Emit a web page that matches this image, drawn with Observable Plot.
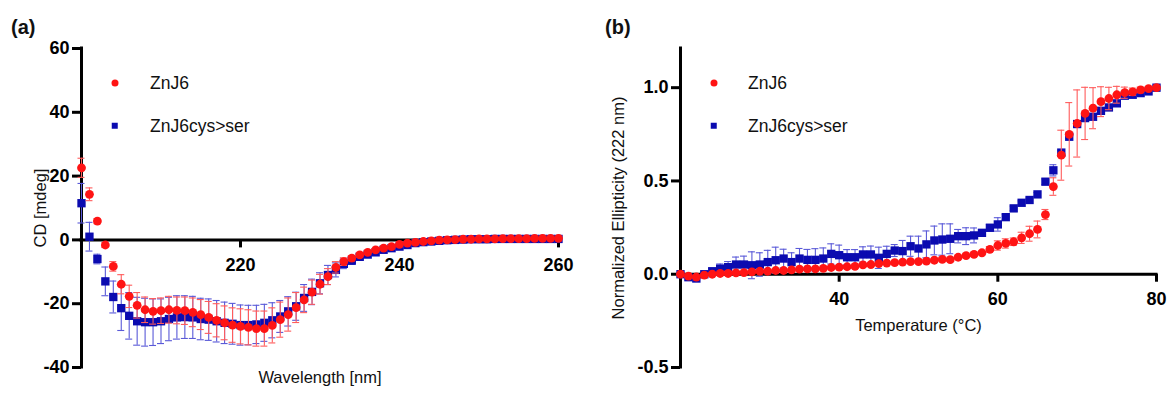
<!DOCTYPE html>
<html><head><meta charset="utf-8">
<script src="https://cdn.jsdelivr.net/npm/d3@7"></script>
<script src="https://cdn.jsdelivr.net/npm/@observablehq/plot@0.6"></script>
<style>
body{margin:0;background:#fff;font-family:"Liberation Sans",Arial,sans-serif}
#wrap{position:relative;width:1171px;height:394px;overflow:hidden;background:#fff}
.panel{position:absolute;top:0}
.plab{position:absolute;font-weight:bold;font-size:20px;color:#111;line-height:1}
.legt{position:absolute;font-size:17.5px;color:#111;line-height:1;white-space:nowrap;transform:translateY(-50%)}
.sw{position:absolute;transform:translate(-50%,-50%)}
</style></head>
<body>
<div id="wrap"></div>
<script>
// ---------- Panel (a): CD spectra ----------
const wavelength = [200,201,202,203,204,205,206,207,208,209,210,211,212,213,214,215,216,217,218,219,220,221,222,223,224,225,226,227,228,229,230,231,232,233,234,235,236,237,238,239,240,241,242,243,244,245,246,247,248,249,250,251,252,253,254,255,256,257,258,259,260];
const cdZnJ6 = [22.6,14.3,5.9,-1.6,-8.3,-13.9,-17.7,-20.5,-21.9,-22.4,-22.2,-21.9,-22.1,-22.2,-22.7,-23.4,-24.3,-25.2,-26.0,-26.7,-27.1,-27.4,-27.8,-27.8,-26.8,-25.0,-23.4,-21.2,-18.8,-16.4,-13.9,-11.5,-8.6,-6.8,-5.7,-4.7,-3.9,-3.1,-2.6,-2.1,-1.4,-1.0,-0.8,-0.5,-0.3,-0.1,0.0,0.1,0.2,0.2,0.3,0.3,0.3,0.4,0.4,0.4,0.4,0.5,0.5,0.5,0.5];
const cdZnJ6Err = [3,2,0.8,0.8,1.5,3,3.5,4,4,4,4,4.2,4.2,4.3,4.5,4.7,5,5.2,5.3,5.4,5.5,5.5,5.5,5.5,5.5,5.5,5.2,4.7,4.0,3.8,3.1,2.5,1.8,1.2,0.8,0.6,0.5,0.4,0.3,0.3,0.3,0.3,0.3,0.3,0.3,0.3,0.2,0.2,0.2,0.2,0.2,0.2,0.2,0.2,0.2,0.2,0.2,0.2,0.2,0.2,0.2];
const cdMut = [11.5,1.0,-6.0,-13.0,-17.9,-21.4,-23.8,-25.5,-25.8,-25.8,-25.5,-24.8,-24.3,-24.2,-24.3,-24.8,-25.0,-25.5,-26.0,-26.3,-26.7,-26.7,-26.5,-26.0,-25.2,-24.0,-22.4,-20.8,-18.2,-16.3,-13.6,-11.0,-9.4,-7.5,-6.5,-5.3,-4.6,-3.9,-3.1,-2.6,-2.1,-1.6,-1.0,-0.7,-0.5,-0.3,-0.1,0.0,0.1,0.2,0.2,0.2,0.3,0.3,0.3,0.3,0.3,0.3,0.3,0.3,0.3];
const cdMutErr = [6.2,4.5,1.5,4.5,5,7,7.3,7.5,7.5,7.3,7,6.8,6.8,6.7,6.6,6.5,6.5,6.5,6.5,6.4,6.3,6.2,6.0,5.8,5.5,5.0,4.6,4.4,4.2,4.0,3.3,3.0,2.2,1.5,1.2,0.9,0.7,0.5,0.4,0.3,0.3,0.3,0.3,0.3,0.3,0.3,0.3,0.3,0.3,0.3,0.3,0.3,0.3,0.3,0.3,0.3,0.3,0.3,0.3,0.3,0.3];
const aXTicks = [220, 240, 260];
const aYTicks = [60, 40, 20, 0, -20, -40];

// ---------- Panel (b): thermal melt ----------
const temperature = [20,21,22,23,24,25,26,27,28,29,30,31,32,33,34,35,36,37,38,39,40,41,42,43,44,45,46,47,48,49,50,51,52,53,54,55,56,57,58,59,60,61,62,63,64,65,66,67,68,69,70,71,72,73,74,75,76,77,78,79,80];
const ellZnJ6 = [0.0,-0.01,-0.015,-0.005,0.0,0.004,0.004,0.007,0.009,0.013,0.016,0.016,0.02,0.02,0.023,0.027,0.029,0.029,0.031,0.036,0.038,0.04,0.042,0.05,0.052,0.057,0.06,0.062,0.065,0.068,0.068,0.07,0.075,0.08,0.078,0.091,0.1,0.106,0.115,0.133,0.154,0.165,0.174,0.195,0.217,0.24,0.32,0.47,0.638,0.75,0.808,0.862,0.89,0.925,0.942,0.962,0.973,0.978,0.988,0.995,1.0];
const ellZnJ6Err = [0.005,0.005,0.005,0.005,0.005,0.005,0.005,0.005,0.005,0.005,0.006,0.006,0.006,0.006,0.006,0.006,0.006,0.006,0.006,0.006,0.007,0.007,0.007,0.007,0.007,0.007,0.007,0.008,0.008,0.008,0.008,0.008,0.008,0.008,0.008,0.01,0.01,0.01,0.01,0.015,0.025,0.025,0.02,0.03,0.04,0.045,0.027,0.047,0.134,0.17,0.18,0.14,0.11,0.08,0.06,0.045,0.03,0.02,0.015,0.01,0.005];
const ellMut = [0.0,-0.016,-0.023,0.0,0.016,0.03,0.038,0.052,0.052,0.048,0.052,0.065,0.075,0.084,0.065,0.084,0.077,0.077,0.084,0.109,0.102,0.091,0.091,0.106,0.106,0.088,0.109,0.127,0.124,0.15,0.138,0.16,0.181,0.186,0.19,0.204,0.204,0.208,0.222,0.249,0.267,0.306,0.353,0.383,0.398,0.428,0.496,0.557,0.652,0.737,0.805,0.837,0.844,0.876,0.894,0.916,0.957,0.962,0.971,0.98,1.0];
const ellMutErr = [0.005,0.015,0.015,0.01,0.015,0.025,0.03,0.04,0.045,0.072,0.063,0.063,0.07,0.05,0.05,0.054,0.056,0.06,0.057,0.054,0.054,0.041,0.041,0.041,0.045,0.057,0.041,0.032,0.057,0.054,0.066,0.072,0.077,0.084,0.08,0.036,0.045,0.04,0.015,0.018,0.036,0.015,0.012,0.01,0.01,0.01,0.015,0.03,0.01,0.01,0.01,0.01,0.01,0.01,0.01,0.01,0.01,0.01,0.01,0.01,0.01];
const bXTicks = [40, 60, 80];
const bYTicks = [1.0, 0.5, 0.0, -0.5];

const seriesNames = ["ZnJ6", "ZnJ6cys>ser"];
const RED = "#ff1414", RED_BAR = "#ff5c5c", BLUE = "#0b0bb0", BLUE_BAR = "#5a5ad8";
const FONT = '"Liberation Sans", Arial, sans-serif';

function rows(xs, ys, es) { return xs.map((x, i) => ({x, y: ys[i], e: es[i]})); }

function errMarks(data, color) {
  return [
    Plot.ruleX(data, {x: "x", y1: d => d.y - d.e, y2: d => d.y + d.e, stroke: color, strokeWidth: 1.1}),
    Plot.ruleY(data, {y: d => d.y + d.e, x1: "x", x2: "x", insetLeft: -3.5, insetRight: -3.5, stroke: color, strokeWidth: 1.1}),
    Plot.ruleY(data, {y: d => d.y - d.e, x1: "x", x2: "x", insetLeft: -3.5, insetRight: -3.5, stroke: color, strokeWidth: 1.1})
  ];
}

function panel(cfg) {
  const red = rows(cfg.xs, cfg.redY, cfg.redE);
  const blue = rows(cfg.xs, cfg.blueY, cfg.blueE);
  const x0 = cfg.xDomain[0];
  return Plot.plot({
    width: cfg.width, height: 394,
    marginLeft: cfg.ml, marginRight: cfg.mr, marginTop: 48, marginBottom: 27,
    x: {domain: cfg.xDomain, axis: null},
    y: {domain: cfg.yDomain, axis: null},
    style: {fontFamily: FONT, fontSize: "18px", fontWeight: "bold", color: "#000", background: "transparent", overflow: "visible"},
    marks: [
      // axis lines
      Plot.ruleX([x0], {x: d => d, stroke: "#000", strokeWidth: 3, strokeLinecap: "square"}),
      Plot.ruleY([0], {y: d => d, stroke: "#000", strokeWidth: 3, strokeLinecap: "square"}),
      // y ticks
      Plot.ruleY(cfg.yTicks, {y: d => d, x1: () => x0, x2: () => x0, insetLeft: -9, stroke: "#000", strokeWidth: 3}),
      Plot.text(cfg.yTicks, {y: d => d, frameAnchor: "left", dx: -12, textAnchor: "end", text: cfg.yFmt, fontSize: 18, fontWeight: "bold", fill: "#000"}),
      // x ticks at y = 0
      Plot.ruleX(cfg.xTicks, {x: d => d, y1: () => 0, y2: () => 0, insetBottom: -8, stroke: "#000", strokeWidth: 3}),
      Plot.text(cfg.xTicks, {x: d => d, y: () => 0, dy: 25, text: d => String(d), fontSize: 18, fontWeight: "bold", fill: "#000"}),
      // axis titles
      Plot.text([cfg.xLabel], {frameAnchor: "bottom", dy: cfg.xLabelDy, text: d => d, textAnchor: "middle", fontSize: 16.5, fontWeight: "normal", fill: "#111"}),
      Plot.text([cfg.yLabel], {frameAnchor: "left", dx: cfg.yLabelDx, rotate: -90, textAnchor: "middle", text: d => d, fontSize: 16.5, fontWeight: "normal", fill: "#111"}),
      // data
      ...errMarks(blue, BLUE_BAR),
      Plot.dot(blue, {x: "x", y: "y", symbol: "square", r: 4.7, fill: BLUE, stroke: "none"}),
      ...errMarks(red, RED_BAR),
      Plot.dot(red, {x: "x", y: "y", r: 4.4, fill: RED, stroke: "none"})
    ]
  });
}

const wrap = document.getElementById("wrap");

function addPanel(el, left) {
  const d = document.createElement("div");
  d.className = "panel"; d.style.left = left + "px";
  d.appendChild(el); wrap.appendChild(d);
}

addPanel(panel({
  width: 585, ml: 81, mr: 27,
  xs: wavelength, redY: cdZnJ6, redE: cdZnJ6Err, blueY: cdMut, blueE: cdMutErr,
  xDomain: [200, 260], yDomain: [-40, 60], xTicks: aXTicks, yTicks: aYTicks,
  yFmt: d => String(d),
  xLabel: "Wavelength [nm]", xLabelDy: 15, yLabel: "CD [mdeg]", yLabelDx: -41
}), 0);

addPanel(panel({
  width: 586, ml: 95, mr: 15,
  xs: temperature, redY: ellZnJ6, redE: ellZnJ6Err, blueY: ellMut, blueE: ellMutErr,
  xDomain: [20, 80], yDomain: [-0.5, 1.21], xTicks: bXTicks, yTicks: bYTicks,
  yFmt: d => d.toFixed(1),
  xLabel: "Temperature (\u00B0C)", xLabelDy: -37, yLabel: "Normalized Ellipticity (222 nm)", yLabelDx: -62
}), 585);

function addText(cls, txt, left, top) {
  const t = document.createElement("div");
  t.className = cls; t.textContent = txt;
  t.style.left = left + "px"; t.style.top = top + "px";
  wrap.appendChild(t);
}
addText("plab", "(a)", 11, 17);
addText("plab", "(b)", 605, 17);

function legend(cx, textX, y0, y1) {
  const s1 = document.createElement("div");
  s1.className = "sw";
  s1.style.cssText += `left:${cx}px;top:${y0}px;width:7px;height:7px;border-radius:50%;background:${RED}`;
  wrap.appendChild(s1);
  const s2 = document.createElement("div");
  s2.className = "sw";
  s2.style.cssText += `left:${cx}px;top:${y1}px;width:6.5px;height:6.5px;background:${BLUE}`;
  wrap.appendChild(s2);
  addText("legt", seriesNames[0], textX, y0 + 1);
  addText("legt", seriesNames[1], textX, y1 + 1);
}
legend(114.5, 150, 82.5, 125.5);
legend(713.5, 748, 82.5, 125.5);
</script>
</body></html>
